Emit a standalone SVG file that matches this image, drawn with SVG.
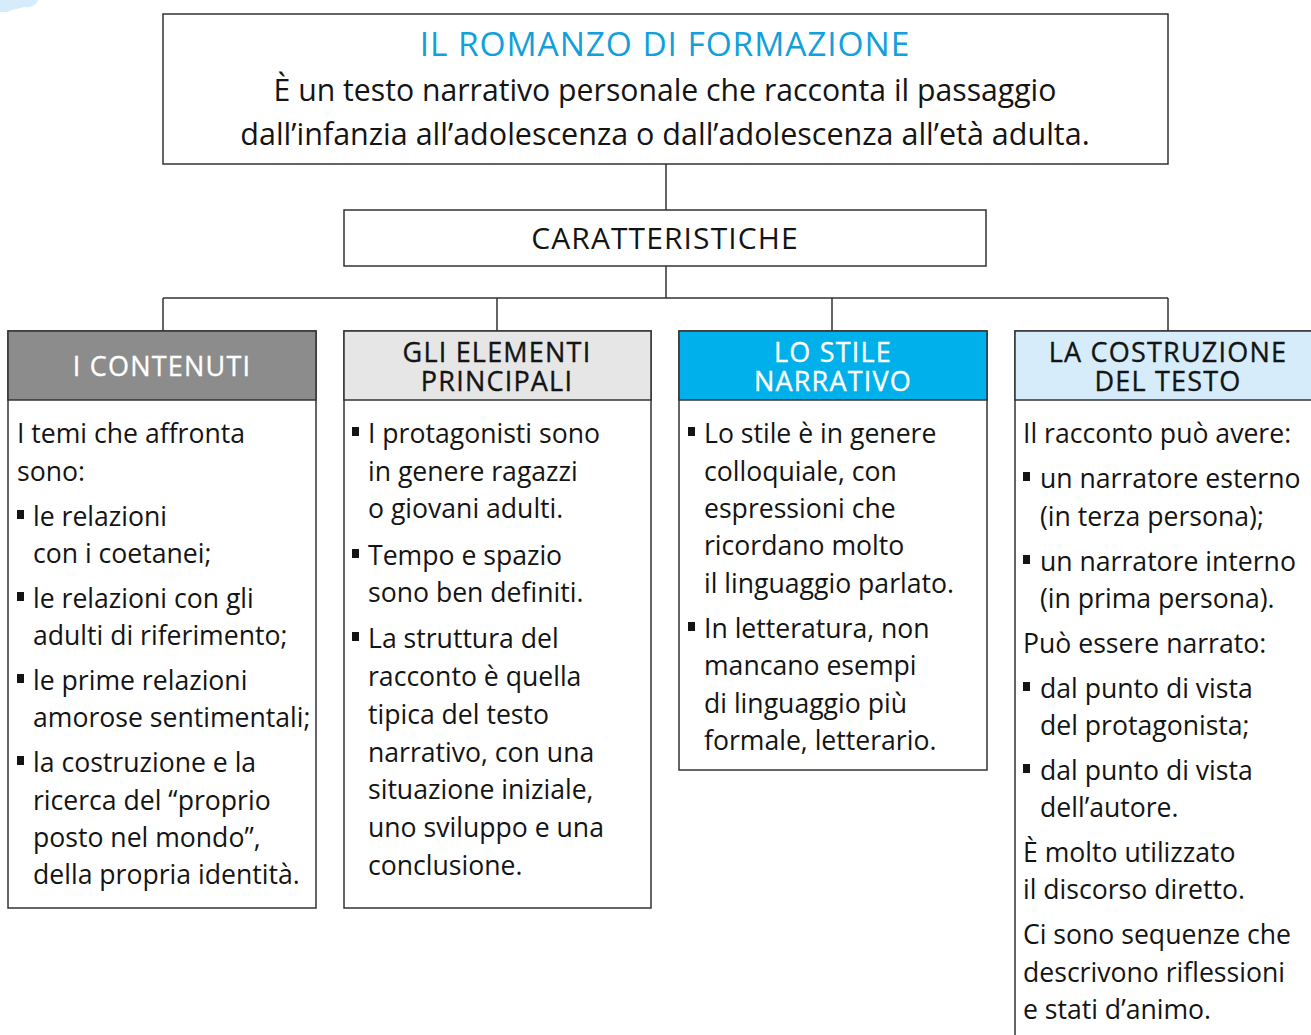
<svg xmlns="http://www.w3.org/2000/svg" width="1311" height="1035" viewBox="0 0 1311 1035">
<style>
text{font-family:"Open Sans","Noto Sans",sans-serif;fill:#141414}
.box{fill:#fff;stroke:#333;stroke-width:1.5}
.hd{stroke:#333;stroke-width:1.5}
.t{font-size:26.6px}
.h{font-size:27px;text-anchor:middle;letter-spacing:1.2px;stroke:#141414;stroke-width:0.35}
.w{fill:#fff;stroke:#fff}
.c{stroke:#333;stroke-width:1.5;fill:none}
.b{fill:#141414}
</style>
<rect width="1311" height="1035" fill="#fff"/>
<path d="M0 0 H38 C36 6 30 8 24 7 C18 9 12 9 8 12 H0 Z" fill="#d6ecfa"/>
<g id="connectors">
<path class="c" d="M666 164 V210 M666 266 V298 M163 298 H1168 M163 298 V331 M497 298 V331 M832 298 V331 M1168 298 V331"/>
</g>
<g id="title">
<rect class="box" x="163" y="14" width="1005" height="150"/>
<text x="665" y="56" style="font-size:33.5px;text-anchor:middle;fill:#12a0dc;letter-spacing:0.9px">IL ROMANZO DI FORMAZIONE</text>
<text x="665" y="101" style="font-size:30.2px;text-anchor:middle">È un testo narrativo personale che racconta il passaggio</text>
<text x="665" y="145" style="font-size:30.5px;text-anchor:middle">dall’infanzia all’adolescenza o dall’adolescenza all’età adulta.</text>
</g>
<g id="caratteristiche">
<rect class="box" x="344" y="210" width="642" height="56"/>
<text x="665" y="249" style="font-size:30px;text-anchor:middle;letter-spacing:1.1px">CARATTERISTICHE</text>
</g>
<g id="contenuti">
<rect class="box" x="8" y="331" width="308" height="577"/>
<rect class="hd" x="8" y="331" width="308" height="69" fill="#8c8c8c"/>
<text class="h w" x="162" y="376">I CONTENUTI</text>
<g class="t">
<text x="17" y="443">I temi che affronta</text>
<text x="17" y="481">sono:</text>
<rect class="b" x="17" y="510" width="7" height="9"/>
<text x="33" y="526">le relazioni</text>
<text x="33" y="563">con i coetanei;</text>
<rect class="b" x="17" y="592" width="7" height="9"/>
<text x="33" y="608">le relazioni con gli</text>
<text x="33" y="645">adulti di riferimento;</text>
<rect class="b" x="17" y="674" width="7" height="9"/>
<text x="33" y="690">le prime relazioni</text>
<text x="33" y="727">amorose sentimentali;</text>
<rect class="b" x="17" y="756" width="7" height="9"/>
<text x="33" y="772">la costruzione e la</text>
<text x="33" y="810">ricerca del “proprio</text>
<text x="33" y="847">posto nel mondo”,</text>
<text x="33" y="884">della propria identità.</text>
</g>
</g>
<g id="elementi">
<rect class="box" x="344" y="331" width="307" height="577"/>
<rect class="hd" x="344" y="331" width="307" height="69" fill="#e6e6e6"/>
<text class="h" x="497" y="362">GLI ELEMENTI<tspan x="497" dy="29">PRINCIPALI</tspan></text>
<g class="t">
<rect class="b" x="352" y="427" width="7" height="9"/>
<text x="368" y="443">I protagonisti sono</text>
<text x="368" y="481">in genere ragazzi</text>
<text x="368" y="518">o giovani adulti.</text>
<rect class="b" x="352" y="549" width="7" height="9"/>
<text x="368" y="565">Tempo e spazio</text>
<text x="368" y="602">sono ben definiti.</text>
<rect class="b" x="352" y="632" width="7" height="9"/>
<text x="368" y="648">La struttura del</text>
<text x="368" y="686">racconto è quella</text>
<text x="368" y="724">tipica del testo</text>
<text x="368" y="762">narrativo, con una</text>
<text x="368" y="799">situazione iniziale,</text>
<text x="368" y="837">uno sviluppo e una</text>
<text x="368" y="875">conclusione.</text>
</g>
</g>
<g id="stile">
<rect class="box" x="679" y="331" width="308" height="439"/>
<rect class="hd" x="679" y="331" width="308" height="69" fill="#00b0ea"/>
<text class="h w" x="833" y="362">LO STILE<tspan x="833" dy="29">NARRATIVO</tspan></text>
<g class="t">
<rect class="b" x="688" y="427" width="7" height="9"/>
<text x="704" y="443">Lo stile è in genere</text>
<text x="704" y="481">colloquiale, con</text>
<text x="704" y="518">espressioni che</text>
<text x="704" y="555">ricordano molto</text>
<text x="704" y="593">il linguaggio parlato.</text>
<rect class="b" x="688" y="622" width="7" height="9"/>
<text x="704" y="638">In letteratura, non</text>
<text x="704" y="675">mancano esempi</text>
<text x="704" y="713">di linguaggio più</text>
<text x="704" y="750">formale, letterario.</text>
</g>
</g>
<g id="costruzione">
<rect class="box" x="1015" y="331" width="310" height="720"/>
<rect class="hd" x="1015" y="331" width="310" height="69" fill="#d6ecfa"/>
<text class="h" x="1168" y="362">LA COSTRUZIONE<tspan x="1168" dy="29">DEL TESTO</tspan></text>
<g class="t">
<text x="1023" y="443">Il racconto può avere:</text>
<rect class="b" x="1023" y="472" width="7" height="9"/>
<text x="1040" y="488">un narratore esterno</text>
<text x="1040" y="526">(in terza persona);</text>
<rect class="b" x="1023" y="555" width="7" height="9"/>
<text x="1040" y="571">un narratore interno</text>
<text x="1040" y="608">(in prima persona).</text>
<text x="1023" y="653">Può essere narrato:</text>
<rect class="b" x="1023" y="682" width="7" height="9"/>
<text x="1040" y="698">dal punto di vista</text>
<text x="1040" y="735">del protagonista;</text>
<rect class="b" x="1023" y="764" width="7" height="9"/>
<text x="1040" y="780">dal punto di vista</text>
<text x="1040" y="817">dell’autore.</text>
<text x="1023" y="862">È molto utilizzato</text>
<text x="1023" y="899">il discorso diretto.</text>
<text x="1023" y="944">Ci sono sequenze che</text>
<text x="1023" y="982">descrivono riflessioni</text>
<text x="1023" y="1019">e stati d’animo.</text>
</g>
</g>
</svg>
